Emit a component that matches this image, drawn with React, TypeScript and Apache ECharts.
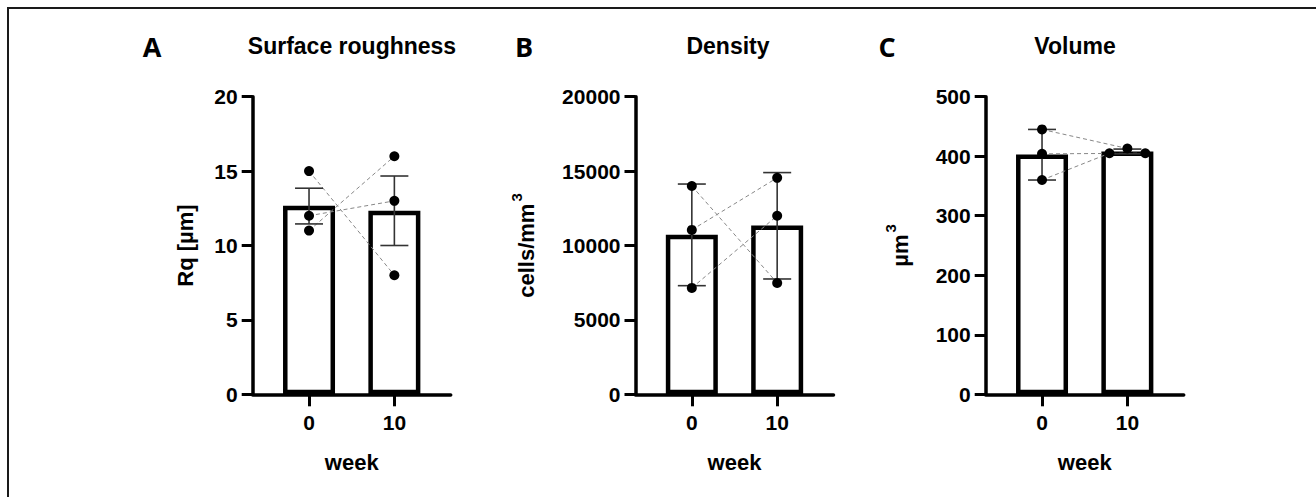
import React, { useEffect, useRef } from "react";
import * as echarts from "echarts";

// ---- data ----
const weeks = [0, 10];
const weekTickLabels = ["0", "10"];

// Surface roughness (Rq, µm), per subject (index = subject)
const roughnessW0 = [15, 12, 11];
const roughnessW10 = [8, 13, 16];
const roughnessMean = [12.67, 12.33];
const roughnessErrLow = [11.45, 10.0];
const roughnessErrHigh = [13.85, 14.67];

// Density (cells/mm3)
const densityW0 = [14000, 11050, 7150];
const densityW10 = [7480, 14550, 12000];
const densityMean = [10717, 11343];
const densityErrLow = [7300, 7750];
const densityErrHigh = [14130, 14900];

// Volume (µm3)
const volumeW0 = [445, 404, 360];
const volumeW10 = [413, 405, 405];
const volumeMean = [403, 408];
const volumeErrLow = [360, 404];
const volumeErrHigh = [445, 412];
// horizontal dodge of overlapping points at week 10
const volumeJitterW10 = [0, 2.1, -2.1];
const noJitter = [0, 0, 0];

const yMax = [20, 20000, 500];
const yInterval = [5, 5000, 100];
const titles = ["Surface roughness", "Density", "Volume"];
const letters = ["A", "B", "C"];
const yNames = ["Rq [µm]", "{b|cells/mm}{s|3}", "{b|µm}{s|3}"];

const FONT = "Liberation Sans, Arial, sans-serif";

export default function App() {
  const ref = useRef<HTMLDivElement>(null);
  useEffect(() => {
    if (!ref.current) return;
    const chart = echarts.init(ref.current, null, { renderer: "svg" });

    const gridLefts = [252.7, 635.5, 985.7];
    const gridTop = 96.7;
    const gridH = 297.6;
    const gridW = 198;
    const yGaps = [56, 92, 68];
    const titleX = [352, 728, 1075];
    const letterX = [152, 524, 887];

    const panels = [
      { w0: roughnessW0, w10: roughnessW10, mean: roughnessMean, lo: roughnessErrLow, hi: roughnessErrHigh, jit: noJitter },
      { w0: densityW0, w10: densityW10, mean: densityMean, lo: densityErrLow, hi: densityErrHigh, jit: noJitter },
      { w0: volumeW0, w10: volumeW10, mean: volumeMean, lo: volumeErrLow, hi: volumeErrHigh, jit: volumeJitterW10 },
    ];

    const grid: any[] = [];
    const xAxis: any[] = [];
    const yAxis: any[] = [];
    const series: any[] = [];
    const graphic: any[] = [
      {
        type: "rect",
        shape: { x: 8, y: 8, width: 1400, height: 600 },
        style: { fill: "none", stroke: "#1a1a1a", lineWidth: 2 },
        silent: true,
        z: -10,
      },
    ];

    panels.forEach((p, i) => {
      grid.push({ left: gridLefts[i], top: gridTop, width: gridW, height: gridH });
      xAxis.push({
        gridIndex: i,
        type: "value",
        min: -6.6,
        max: 16.6,
        name: "week",
        nameLocation: "middle",
        nameGap: 57,
        nameTextStyle: { fontSize: 22, fontWeight: "bold", color: "#000", fontFamily: FONT },
        axisLine: { show: true, onZero: false, lineStyle: { color: "#000", width: 3.5 } },
        axisTick: { show: true, customValues: weeks, length: 12, lineStyle: { color: "#000", width: 3 } },
        axisLabel: {
          show: true,
          customValues: weeks,
          formatter: (v: number) => weekTickLabels[weeks.indexOf(v)] ?? "",
          fontSize: 21,
          fontWeight: "bold",
          color: "#000",
          fontFamily: FONT,
          margin: 18,
        },
        splitLine: { show: false },
      });
      yAxis.push({
        gridIndex: i,
        type: "value",
        min: 0,
        max: yMax[i],
        interval: yInterval[i],
        name: yNames[i],
        nameLocation: "middle",
        nameGap: yGaps[i],
        nameTextStyle: {
          fontSize: 22,
          fontWeight: "bold",
          color: "#000",
          fontFamily: FONT,
          rich: {
            b: { fontSize: 22, fontWeight: "bold", color: "#000", fontFamily: FONT },
            s: { fontSize: 15, fontWeight: "bold", color: "#000", fontFamily: FONT, padding: [0, 0, 20, 2] },
          },
        },
        axisLine: { show: true, onZero: false, lineStyle: { color: "#000", width: 3.5 } },
        axisTick: { show: true, length: 11, lineStyle: { color: "#000", width: 3 } },
        axisLabel: {
          fontSize: 21,
          fontWeight: "bold",
          color: "#000",
          fontFamily: FONT,
          margin: 15,
          formatter: (v: number) => String(v),
        },
        splitLine: { show: false },
      });

      series.push({
        type: "bar",
        xAxisIndex: i,
        yAxisIndex: i,
        data: weeks.map((w, k) => [w, p.mean[k]]),
        barWidth: 52,
        itemStyle: { color: "#fff", borderColor: "#000", borderWidth: 4.5 },
        silent: true,
        z: 2,
      });

      p.w0.forEach((v0, j) => {
        series.push({
          type: "line",
          xAxisIndex: i,
          yAxisIndex: i,
          data: [
            [weeks[0], v0],
            [weeks[1] + p.jit[j], p.w10[j]],
          ],
          symbol: "none",
          lineStyle: { color: "#888", width: 1, type: [4, 3] },
          silent: true,
          z: 3,
        });
      });

      series.push({
        type: "custom",
        xAxisIndex: i,
        yAxisIndex: i,
        data: weeks.map((w, k) => [w, p.lo[k], p.hi[k]]),
        encode: { x: 0, y: [1, 2] },
        silent: true,
        z: 4,
        renderItem: (params: any, api: any) => {
          const x = api.value(0);
          const a = api.coord([x, api.value(1)]);
          const b = api.coord([x, api.value(2)]);
          const hw = 14;
          const style = { stroke: "#333", lineWidth: 1.6 };
          return {
            type: "group",
            children: [
              { type: "line", shape: { x1: a[0], y1: a[1], x2: b[0], y2: b[1] }, style },
              { type: "line", shape: { x1: a[0] - hw, y1: a[1], x2: a[0] + hw, y2: a[1] }, style },
              { type: "line", shape: { x1: b[0] - hw, y1: b[1], x2: b[0] + hw, y2: b[1] }, style },
            ],
          };
        },
      });

      const pts: number[][] = [];
      p.w0.forEach((v) => pts.push([weeks[0], v]));
      p.w10.forEach((v, j) => pts.push([weeks[1] + p.jit[j], v]));
      series.push({
        type: "scatter",
        xAxisIndex: i,
        yAxisIndex: i,
        data: pts,
        symbol: "circle",
        symbolSize: 10,
        itemStyle: { color: "#000", opacity: 1 },
        silent: true,
        z: 5,
      });

      graphic.push({
        type: "text",
        x: letterX[i],
        y: 46,
        style: {
          text: letters[i],
          fontSize: 27,
          fontWeight: "bold",
          fontFamily: "Open Sans, sans-serif",
          fill: "#000",
          textAlign: "center",
          textVerticalAlign: "middle",
        },
        silent: true,
      });
      graphic.push({
        type: "text",
        x: titleX[i],
        y: 46,
        style: {
          text: titles[i],
          fontSize: 23,
          fontWeight: "bold",
          fontFamily: FONT,
          fill: "#000",
          textAlign: "center",
          textVerticalAlign: "middle",
        },
        silent: true,
      });
    });

    chart.setOption({
      animation: false,
      backgroundColor: "#fff",
      grid,
      xAxis,
      yAxis,
      series,
      graphic,
    });
    return () => chart.dispose();
  }, []);

  return (
    <div
      ref={ref}
      style={{ position: "fixed", left: 0, top: 0, width: 1316, height: 497, background: "#fff" }}
    />
  );
}
